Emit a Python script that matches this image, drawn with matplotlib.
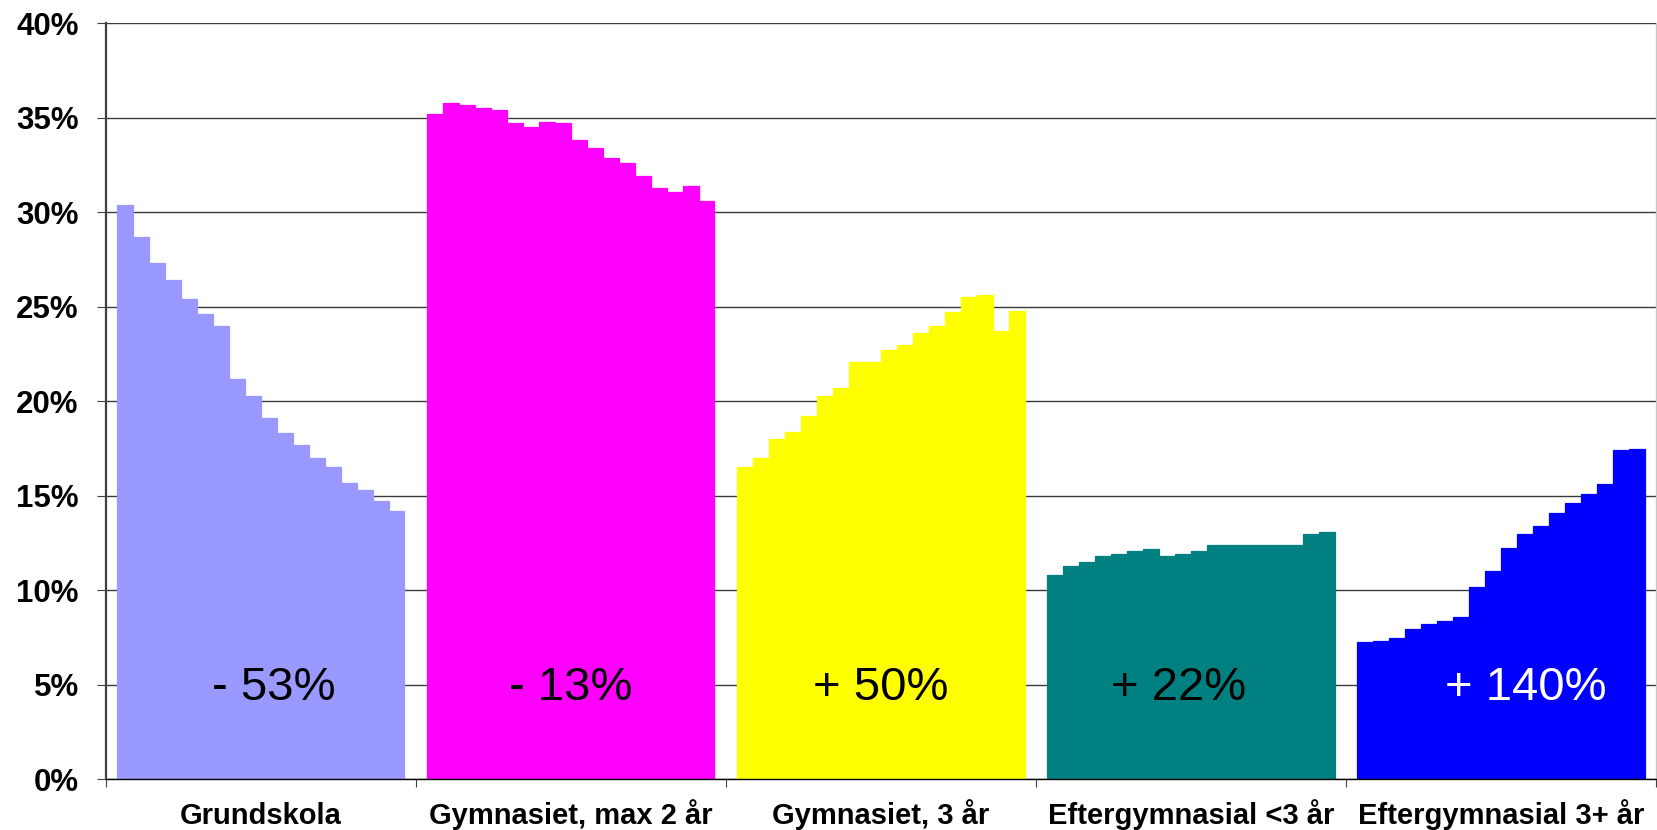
import numpy as np
import matplotlib.pyplot as plt

plt.rcParams['font.family'] = ['Liberation Sans', 'DejaVu Sans']

categories = ["Grundskola", "Gymnasiet, max 2 år", "Gymnasiet, 3 år",
              "Eftergymnasial <3 år", "Eftergymnasial 3+ år"]

grundskola = [30.4, 28.7, 27.3, 26.4, 25.4, 24.6, 24.0, 21.2, 20.3,
              19.1, 18.3, 17.7, 17.0, 16.5, 15.7, 15.3, 14.7, 14.2]
gymn_max2 = [35.2, 35.8, 35.7, 35.5, 35.4, 34.7, 34.5, 34.8, 34.7,
             33.8, 33.4, 32.9, 32.6, 31.9, 31.3, 31.1, 31.4, 30.6]
gymn_3 = [16.5, 17.0, 18.0, 18.4, 19.2, 20.3, 20.7, 22.1, 22.1,
          22.7, 23.0, 23.6, 24.0, 24.7, 25.5, 25.6, 23.7, 24.8]
efter_lt3 = [10.8, 11.3, 11.5, 11.8, 11.9, 12.1, 12.2, 11.8, 11.9,
             12.1, 12.4, 12.4, 12.4, 12.4, 12.4, 12.4, 13.0, 13.1]
efter_3plus = [7.28, 7.3, 7.46, 7.94, 8.21, 8.37, 8.58, 10.2, 11.0,
               12.25, 13.0, 13.4, 14.1, 14.6, 15.1, 15.6, 17.4, 17.5]

changes = ["- 53%", "- 13%", "+ 50%", "+ 22%", "+ 140%"]

series = [grundskola, gymn_max2, gymn_3, efter_lt3, efter_3plus]
colors = ["#9999FF", "#FF00FF", "#FFFF00", "#008080", "#0000FF"]
text_colors = ["black", "black", "black", "black", "white"]
text_offsets = [0.04, 0.0, 0.0, -0.04, 0.08]

fig = plt.figure(figsize=(16.58, 8.30), dpi=100)
ax = fig.add_axes([0.0639, 0.0611, 0.9349, 0.9108])

n = len(grundskola)
w = 1 / (n + 1.44)
for i, vals in enumerate(series):
    x = i + (np.arange(n) - (n - 1) / 2) * w
    ax.bar(x, vals, width=w, color=colors[i], edgecolor=colors[i],
           linewidth=0.9, zorder=2)
    ax.text(i + text_offsets[i], 4.2, changes[i], ha='center', va='baseline',
            fontsize=34, color=text_colors[i], zorder=3)

ax.set_xlim(-0.5, len(categories) - 0.5)
ax.set_ylim(0, 40)

ax.set_yticks(np.arange(0, 41, 5))
ax.set_yticklabels([f"{v}%" for v in range(0, 41, 5)], fontsize=22.5, fontweight='bold')
ax.yaxis.grid(True, color='#3a3a3a', linewidth=1.0, zorder=0)
ax.set_axisbelow(True)
ax.tick_params(axis='y', length=6.5, width=0.8, color='#404040', pad=13)

ax.set_xticks(range(len(categories)))
ax.set_xticklabels(categories, fontsize=21, fontweight='bold')
for lbl in ax.get_xticklabels():
    lbl.set_verticalalignment('baseline')
ax.set_xticks(np.arange(-0.5, len(categories)), minor=True)
ax.tick_params(axis='x', which='major', length=0, pad=32)
ax.tick_params(axis='x', which='minor', length=6, width=0.8, color='#404040')

ax.spines['top'].set_visible(False)
ax.spines['left'].set_color('#404040')
ax.spines['left'].set_linewidth(1.6)
ax.spines['bottom'].set_color('black')
ax.spines['bottom'].set_linewidth(1.0)
ax.spines['right'].set_color('#c8c8c8')
ax.spines['right'].set_linewidth(1.0)

fig.savefig("out.png", dpi=100)
